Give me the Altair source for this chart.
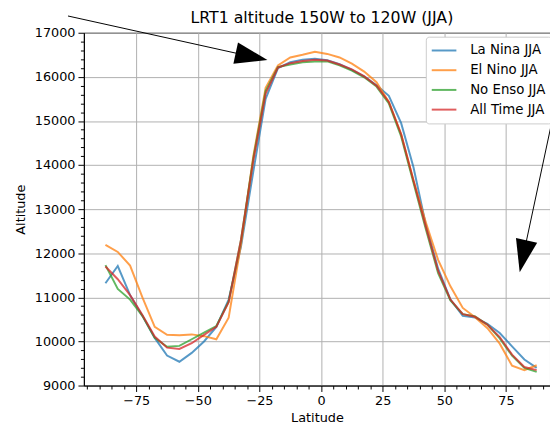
import altair as alt
import pandas as pd

# ---- data ----
lat = [-87.5, -82.5, -77.5, -72.5, -67.5, -62.5, -57.5, -52.5, -47.5, -42.5,
       -37.5, -32.5, -27.5, -22.5, -17.5, -12.5, -7.5, -2.5, 2.5, 7.5,
       12.5, 17.5, 22.5, 27.5, 32.5, 37.5, 42.5, 47.5, 52.5, 57.5,
       62.5, 67.5, 72.5, 77.5, 82.5, 87.5]

la_nina = [11320, 11710, 11050, 10580, 10080, 9680, 9540, 9740, 10000, 10330,
           10950, 12150, 13850, 15500, 16200, 16330, 16390, 16410, 16380, 16290,
           16160, 16010, 15810, 15570, 14950, 13950, 12650, 11650, 10950, 10580,
           10540, 10400, 10190, 9890, 9590, 9400]

el_nino = [12190, 12030, 11720, 11000, 10330, 10150, 10140, 10160, 10120, 10050,
           10540, 12200, 14200, 15750, 16260, 16440, 16500, 16570, 16520, 16440,
           16300, 16120, 15880, 15430, 14700, 13650, 12700, 11850, 11250, 10760,
           10550, 10300, 9950, 9450, 9350, 9460]

no_enso = [11730, 11190, 10950, 10580, 10080, 9880, 9900, 10050, 10200, 10350,
           10900, 12300, 14150, 15680, 16220, 16280, 16330, 16350, 16350, 16260,
           16140, 15990, 15780, 15400, 14650, 13600, 12550, 11550, 10930, 10620,
           10570, 10380, 10070, 9680, 9400, 9310]

all_time = [11700, 11410, 11050, 10600, 10110, 9860, 9830, 9960, 10150, 10330,
            10890, 12300, 14100, 15620, 16210, 16310, 16360, 16390, 16370, 16280,
            16170, 16010, 15800, 15430, 14700, 13650, 12600, 11600, 10950, 10620,
            10560, 10380, 10100, 9700, 9420, 9350]

series_names = ["La Nina JJA", "El Nino JJA", "No Enso JJA", "All Time JJA"]
series_colors = ["#1f77b4", "#ff7f0e", "#2ca02c", "#d62728"]

# annotation arrows (data coordinates)
arrow_lat_start = [-102.7, 97.7]
arrow_alt_start = [17380, 16040]
arrow_lat_head = [-28.2, 82.0]
arrow_alt_head = [16459, 11931]
arrow_angle = [12.3, 102.2]

# ---- tables ----
rows = []
for name, vals in zip(series_names, [la_nina, el_nino, no_enso, all_time]):
    for la, v in zip(lat, vals):
        rows.append({"Latitude": la, "Altitude": v, "series": name})
df = pd.DataFrame(rows)

arrows = pd.DataFrame({
    "x0": arrow_lat_start, "y0": arrow_alt_start,
    "x1": arrow_lat_head, "y1": arrow_alt_head,
    "angle": arrow_angle,
})

FONT = "DejaVu Sans"

x_scale = alt.Scale(domain=[-96.25, 92.9], nice=False, zero=False)
y_scale = alt.Scale(domain=[9000, 17000], nice=False, zero=False)

x_axis = alt.Axis(
    title="Latitude",
    values=list(range(-95, 95, 5)),
    labelExpr="datum.value % 25 === 0 ? datum.label : ''",
    labelOverlap=False, labelFlush=False,
    tickSize={"condition": {"test": "datum.value % 25 === 0", "value": 6}, "value": 3.5},
    gridOpacity={"condition": {"test": "datum.value % 25 === 0", "value": 1}, "value": 0},
    labelPadding=3, titlePadding=4,
)
y_axis = alt.Axis(
    title="Altitude",
    values=list(range(9000, 17001, 200)),
    format="d",
    labelExpr="datum.value % 1000 === 0 ? datum.label : ''",
    labelOverlap=False, labelFlush=False,
    tickSize={"condition": {"test": "datum.value % 1000 === 0", "value": 6}, "value": 3.5},
    gridOpacity={"condition": {"test": "datum.value % 1000 === 0", "value": 1}, "value": 0},
    labelPadding=3, titlePadding=7,
)

lines = alt.Chart(df).mark_line(strokeWidth=2, opacity=0.75).encode(
    x=alt.X("Latitude:Q", scale=x_scale, axis=x_axis),
    y=alt.Y("Altitude:Q", scale=y_scale, axis=y_axis),
    color=alt.Color(
        "series:N",
        scale=alt.Scale(domain=series_names, range=series_colors),
        legend=alt.Legend(
            orient="none", legendX=347, legendY=4, title=None,
            symbolType="stroke", symbolSize=625, symbolStrokeWidth=2,
            symbolOpacity=0.75, clipHeight=18,
            labelFont=FONT, labelFontSize=13.5, labelColor="black",
            fillColor="white", strokeColor="#cccccc", cornerRadius=3,
            padding=5, rowPadding=2, labelOffset=13,
        ),
    ),
)

shafts = alt.Chart(arrows).mark_rule(color="black", strokeWidth=1).encode(
    x=alt.X("x0:Q", scale=x_scale, axis=x_axis),
    y=alt.Y("y0:Q", scale=y_scale, axis=y_axis),
    x2="x1:Q",
    y2="y1:Q",
)

heads = alt.Chart(arrows).mark_point(
    shape="M1,0 L-1,-0.667 L-1,0.667 Z", filled=True, color="black",
    size=1089, opacity=1, strokeWidth=0,
).encode(
    x=alt.X("x1:Q", scale=x_scale, axis=x_axis),
    y=alt.Y("y1:Q", scale=y_scale, axis=y_axis),
    angle=alt.Angle("angle:Q", scale=None),
)

chart = alt.layer(lines, shafts, heads).properties(
    width=473,
    height=358,
    title=alt.TitleParams(
        "LRT1 altitude 150W to 120W (JJA)", font=FONT, fontSize=16,
        fontWeight="normal", color="black", offset=6, dx=5, dy=17, frame="group",
    ),
    autosize=alt.AutoSizeParams(type="none"),
    padding={"left": 77, "top": 22, "right": 0, "bottom": 43},
).configure(
    background="white",
).configure_view(
    stroke="black", strokeWidth=1,
).configure_axis(
    labelFont=FONT, labelFontSize=13, labelColor="black",
    titleFont=FONT, titleFontSize=13, titleColor="black", titleFontWeight="normal",
    domainColor="black", tickColor="black",
    gridColor="#b0b0b0", gridWidth=1,
)

chart.save("out.html", embed_options={"renderer": "svg", "actions": False})
